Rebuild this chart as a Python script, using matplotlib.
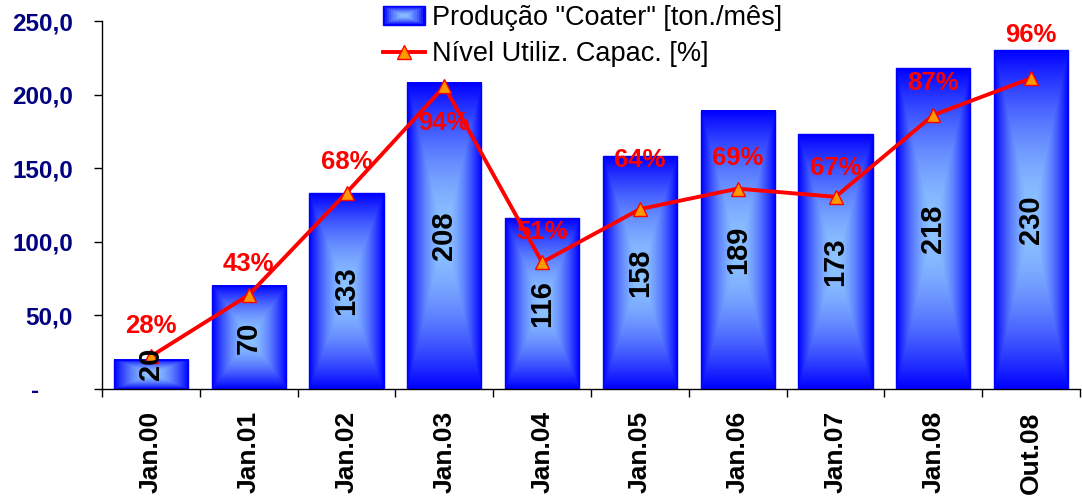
import numpy as np
import matplotlib
matplotlib.use("Agg")
import matplotlib.pyplot as plt
from matplotlib.patches import Rectangle
from matplotlib.legend_handler import HandlerBase
from matplotlib.colors import to_rgb
from matplotlib.ticker import FixedLocator

plt.rcParams['font.family'] = ['Liberation Sans', 'DejaVu Sans']

# --- data -------------------------------------------------------------
periods = ["Jan.00", "Jan.01", "Jan.02", "Jan.03", "Jan.04",
           "Jan.05", "Jan.06", "Jan.07", "Jan.08", "Out.08"]
production = [20, 70, 133, 208, 116, 158, 189, 173, 218, 230]      # ton./mês
utilization = [28, 43, 68, 94, 51, 64, 69, 67, 87, 96]              # %
y_ticks = [0, 50, 100, 150, 200, 250]

# vertical offset (points) of each percentage label from its marker
pct_label_offsets = [22, 22, 22, -26, 22, 35, 22, 21, 23, 31]

EDGE_BLUE = np.array(to_rgb("#0000FF"))
LIGHT_BLUE = np.array(to_rgb("#8EC4FF"))
GRAD_POWER = 1.7


def path_gradient(nx=80, ny=200):
    """Rectangular path gradient: light in the centre, blue at the edges."""
    u = np.linspace(-1, 1, nx)
    v = np.linspace(-1, 1, ny)
    U, V = np.meshgrid(u, v)
    t = np.maximum(np.abs(U), np.abs(V))
    s = np.clip(t, 0, 1) ** GRAD_POWER
    return LIGHT_BLUE + (EDGE_BLUE - LIGHT_BLUE) * s[..., None]


class GradientBoxHandler(HandlerBase):
    def create_artists(self, legend, orig_handle, xdescent, ydescent,
                       width, height, fontsize, trans):
        arts = []
        steps = 10
        h = height * 1.0
        y0 = -ydescent + (height - h) / 2
        for i in range(steps):
            f = i / steps
            s = (1 - f) ** GRAD_POWER
            col = LIGHT_BLUE + (EDGE_BLUE - LIGHT_BLUE) * s
            dx = width * 0.5 * f
            dy = h * 0.5 * f
            r = Rectangle((-xdescent + dx, y0 + dy), width - 2 * dx, h - 2 * dy,
                          facecolor=col, edgecolor='none', transform=trans)
            arts.append(r)
        arts.append(Rectangle((-xdescent, y0), width, h, facecolor='none',
                              edgecolor=EDGE_BLUE, lw=1, transform=trans))
        return arts


fig = plt.figure(figsize=(10.82, 4.98), dpi=100)
ax = fig.add_axes([102 / 1082, 1 - 389 / 498, (1080 - 102) / 1082, (389 - 21) / 498])

x = np.arange(len(periods))
bars = ax.bar(x, production, width=0.76, facecolor='none',
              edgecolor=EDGE_BLUE, linewidth=1.0, zorder=3)

grad = path_gradient()
for b in bars:
    x0, y0 = b.get_x(), b.get_y()
    w, h = b.get_width(), b.get_height()
    ax.imshow(grad, extent=(x0, x0 + w, y0, y0 + h), aspect='auto',
              origin='lower', interpolation='bilinear', zorder=2)

ax.set_xlim(-0.5, len(periods) - 0.5)
ax.set_ylim(0, 250)

# axes styling
for side in ('top', 'right'):
    ax.spines[side].set_visible(False)
ax.spines['left'].set_color('black')
ax.spines['bottom'].set_color('black')
ax.spines['left'].set_linewidth(1.0)
ax.spines['bottom'].set_linewidth(1.0)

ax.yaxis.set_major_locator(FixedLocator(y_ticks))
ax.set_yticklabels(["-     " if v == 0 else f"{v:.1f}".replace('.', ',') for v in y_ticks])
ax.tick_params(axis='y', length=6, width=1, pad=15, labelsize=17.5,
               labelcolor='#000080', color='black')
for lbl in ax.get_yticklabels():
    lbl.set_fontweight('bold')

ax.set_xticks(x)
ax.set_xticklabels(periods, rotation=90, fontsize=19, fontweight='bold')
ax.tick_params(axis='x', which='major', length=0, pad=16)
ax.set_xticks(np.arange(len(periods) + 1) - 0.5, minor=True)
ax.tick_params(axis='x', which='minor', length=6, width=1, color='black')

# utilization line on a hidden secondary scale
ax2 = ax.twinx()
ax2.set_ylim(20, 110)
ax2.axis('off')
line, = ax2.plot(x, utilization, color='#FF0000', lw=2.8, marker='^',
                 markersize=10, markerfacecolor='#FF9900',
                 markeredgecolor='#FF0000', markeredgewidth=1.0, zorder=5)

for xi, val, dy in zip(x, utilization, pct_label_offsets):
    ax2.annotate(f"{val}%", (xi, val), xytext=(0, dy), textcoords='offset points',
                 ha='center', va='center', fontsize=18.5, fontweight='bold',
                 color='#FF0000', zorder=6)

ax.set_zorder(1)
ax2.set_zorder(2)
ax2.patch.set_visible(False)

# value labels inside the bars, drawn above the line
# (short bars get their label lifted off the axis)
fig.canvas.draw()
renderer = fig.canvas.get_renderer()
px_per_unit = ax.transData.transform((0, 1))[1] - ax.transData.transform((0, 0))[1]
for xi, val in zip(x, production):
    t = ax2.text(xi, val / 2, f"{val}", rotation=90, ha='center', va='center',
                 fontsize=21, fontweight='bold', color='black', zorder=10,
                 transform=ax.transData)
    ext = t.get_window_extent(renderer)
    half = ext.height / 2 / px_per_unit
    lift = 9 / px_per_unit
    if val / 2 - half < lift:
        t.set_y(half + lift)

legend_box = Rectangle((0, 0), 1, 1)
leg = fig.legend([legend_box, line],
                 ['Produção "Coater" [ton./mês]', 'Nível Utiliz. Capac. [%]'],
                 handler_map={Rectangle: GradientBoxHandler()},
                 loc='upper left', bbox_to_anchor=(383 / 1082, 1 - 5 / 498),
                 frameon=False, fontsize=19.5, borderpad=0, borderaxespad=0,
                 handlelength=1.55, handletextpad=0.25, labelspacing=0.38)

fig.savefig("out.png", dpi=100)
